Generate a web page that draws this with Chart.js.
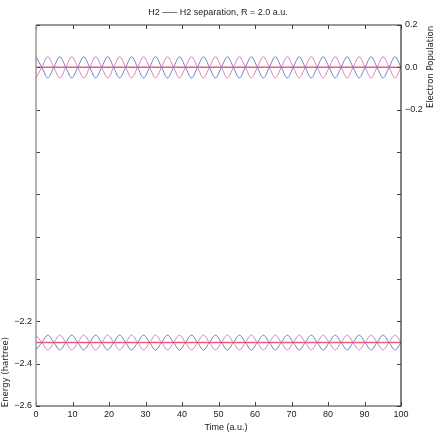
<!DOCTYPE html>
<html>
<head>
<meta charset="utf-8">
<script src="https://cdn.jsdelivr.net/npm/chart.js@4/dist/chart.umd.min.js"></script>
<style>
html,body{margin:0;padding:0;background:#fff;}
canvas{display:block;}
</style>
</head>
<body>
<canvas id="c" width="436" height="436"></canvas>
<script>
// Time samples (a.u.): start, then alternating crossings / extrema
const times = [0, 1.6, 3.24, 4.88, 6.52, 8.16, 9.8, 11.44, 13.08, 14.72, 16.36, 18.0, 19.64, 21.28,
  22.92, 24.56, 26.2, 27.84, 29.48, 31.12, 32.76, 34.4, 36.04, 37.68, 39.32, 40.96, 42.6, 44.24,
  45.88, 47.52, 49.16, 50.8, 52.44, 54.08, 55.72, 57.36, 59.0, 60.64, 62.28, 63.92, 65.56, 67.2,
  68.84, 70.48, 72.12, 73.76, 75.4, 77.04, 78.68, 80.32, 81.96, 83.6, 85.24, 86.88, 88.52, 90.16,
  91.8, 93.44, 95.08, 96.72, 98.36, 100];

// Electron population (right axis)
const popBlue = [0.05,0,-0.05,0, 0.05,0,-0.05,0, 0.05,0,-0.05,0, 0.05,0,-0.05,0,
  0.05,0,-0.05,0, 0.05,0,-0.05,0, 0.05,0,-0.05,0, 0.05,0,-0.05,0,
  0.05,0,-0.05,0, 0.05,0,-0.05,0, 0.05,0,-0.05,0, 0.05,0,-0.05,0,
  0.05,0,-0.05,0, 0.05,0,-0.05,0, 0.05,0,-0.05,0, 0.05,0];
const popPink = [-0.05,0,0.05,0, -0.05,0,0.05,0, -0.05,0,0.05,0, -0.05,0,0.05,0,
  -0.05,0,0.05,0, -0.05,0,0.05,0, -0.05,0,0.05,0, -0.05,0,0.05,0,
  -0.05,0,0.05,0, -0.05,0,0.05,0, -0.05,0,0.05,0, -0.05,0,0.05,0,
  -0.05,0,0.05,0, -0.05,0,0.05,0, -0.05,0,0.05,0, -0.05,0];
const popMeanT = [0, 100];
const popMean = [0.0, 0.0];

// Energy (left axis, hartree)
const energyPink = [-2.265,-2.3,-2.335,-2.3, -2.265,-2.3,-2.335,-2.3, -2.265,-2.3,-2.335,-2.3, -2.265,-2.3,-2.335,-2.3,
  -2.265,-2.3,-2.335,-2.3, -2.265,-2.3,-2.335,-2.3, -2.265,-2.3,-2.335,-2.3, -2.265,-2.3,-2.335,-2.3,
  -2.265,-2.3,-2.335,-2.3, -2.265,-2.3,-2.335,-2.3, -2.265,-2.3,-2.335,-2.3, -2.265,-2.3,-2.335,-2.3,
  -2.265,-2.3,-2.335,-2.3, -2.265,-2.3,-2.335,-2.3, -2.265,-2.3,-2.335,-2.3, -2.265,-2.3];
const energyBlue = [-2.335,-2.3,-2.265,-2.3, -2.335,-2.3,-2.265,-2.3, -2.335,-2.3,-2.265,-2.3, -2.335,-2.3,-2.265,-2.3,
  -2.335,-2.3,-2.265,-2.3, -2.335,-2.3,-2.265,-2.3, -2.335,-2.3,-2.265,-2.3, -2.335,-2.3,-2.265,-2.3,
  -2.335,-2.3,-2.265,-2.3, -2.335,-2.3,-2.265,-2.3, -2.335,-2.3,-2.265,-2.3, -2.335,-2.3,-2.265,-2.3,
  -2.335,-2.3,-2.265,-2.3, -2.335,-2.3,-2.265,-2.3, -2.335,-2.3,-2.265,-2.3, -2.335,-2.3];
const energyMeanT = [0, 100];
const energyMean = [-2.3, -2.3];

const leftLabeled = [-2.2, -2.4, -2.6];
const rightLabeled = [0.2, 0.0, -0.2];

const FONT = "'Liberation Sans', sans-serif";
const TFONT = "'DejaVu Sans', sans-serif";
const BLUE = '#6a7cc4';
const PINK = '#d77cc0';
const RED = '#ef5d6c';
const TEXT = '#222';

function pts(xs, ys){ return xs.map((x,i)=>({x:x, y:ys[i]})); }
function fmt(v){ const s = Math.abs(v).toFixed(1); return (v < -1e-9 ? '\u2212' : '') + s; }
function isIn(v, arr){ return arr.some(a => Math.abs(a - v) < 1e-6); }

const overlay = {
  id: 'overlay',
  afterDraw(chart){
    const ctx = chart.ctx, a = chart.chartArea;
    const xs = chart.scales.x, yl = chart.scales.y, yr = chart.scales.y2;
    ctx.save();
    ctx.lineWidth = 1;
    ctx.strokeStyle = '#444';
    ctx.beginPath();
    xs.ticks.forEach(t => {
      const p = Math.round(xs.getPixelForValue(t.value)) + 0.5;
      ctx.moveTo(p, a.bottom); ctx.lineTo(p, a.bottom - 4);
      ctx.moveTo(p, a.top); ctx.lineTo(p, a.top + 4);
    });
    yl.ticks.forEach(t => {
      const p = Math.round(yl.getPixelForValue(t.value)) + 0.5;
      ctx.moveTo(a.left, p); ctx.lineTo(a.left + 4, p);
    });
    yr.ticks.forEach(t => {
      const p = Math.round(yr.getPixelForValue(t.value)) + 0.5;
      ctx.moveTo(a.right, p); ctx.lineTo(a.right - 4, p);
    });
    ctx.stroke();
    ctx.lineWidth = 1.2;
    ctx.strokeStyle = '#333';
    ctx.beginPath();
    ctx.moveTo(a.left, a.top); ctx.lineTo(a.right, a.top);
    ctx.lineTo(a.right, a.bottom); ctx.lineTo(a.left, a.bottom);
    ctx.stroke();
    ctx.strokeStyle = '#999';
    ctx.lineWidth = 1.5;
    ctx.beginPath();
    ctx.moveTo(a.left, a.top); ctx.lineTo(a.left, a.bottom);
    ctx.stroke();
    ctx.fillStyle = TEXT;
    ctx.textAlign = 'center';
    ctx.textBaseline = 'middle';
    ctx.font = '9px ' + FONT;
    ctx.fillText('Time (a.u.)', 226, 428);
    ctx.font = '8.5px ' + TFONT;
    ctx.save();
    ctx.translate(6, 372);
    ctx.rotate(-Math.PI / 2);
    ctx.fillText('Energy (hartree)', 0, 0);
    ctx.restore();
    ctx.save();
    ctx.translate(431, 67);
    ctx.rotate(-Math.PI / 2);
    ctx.fillText('Electron Population', 0, 0);
    ctx.restore();
    ctx.restore();
  }
};

const tickFont = {family: FONT, size: 9};

new Chart(document.getElementById('c'), {
  type: 'line',
  data: {
    datasets: [
      {data: pts(times, popBlue), yAxisID: 'y2', borderColor: BLUE, borderWidth: 1, pointRadius: 0, cubicInterpolationMode: 'monotone', fill: false},
      {data: pts(times, popPink), yAxisID: 'y2', borderColor: PINK, borderWidth: 1, pointRadius: 0, cubicInterpolationMode: 'monotone', fill: false},
      {data: pts(times, energyBlue), yAxisID: 'y', borderColor: BLUE, borderWidth: 1, pointRadius: 0, cubicInterpolationMode: 'monotone', fill: false},
      {data: pts(times, energyPink), yAxisID: 'y', borderColor: PINK, borderWidth: 1, pointRadius: 0, cubicInterpolationMode: 'monotone', fill: false},
      {data: pts(popMeanT, popMean), yAxisID: 'y2', borderColor: RED, borderWidth: 1.5, pointRadius: 0, fill: false},
      {data: pts(energyMeanT, energyMean), yAxisID: 'y', borderColor: RED, borderWidth: 1.5, pointRadius: 0, fill: false}
    ]
  },
  options: {
    responsive: false,
    animation: false,
    devicePixelRatio: 1,
    layout: {padding: 0},
    plugins: {
      legend: {display: false},
      tooltip: {enabled: false},
      title: {display: true, text: 'H2 \u2013\u2013\u2013 H2 separation, R = 2.0 a.u.', color: TEXT,
        font: {family: FONT, size: 9, weight: 'normal'}, padding: {top: 7, bottom: 7.2}}
    },
    scales: {
      x: {type: 'linear', min: 0, max: 100,
        ticks: {stepSize: 10, padding: 3, color: TEXT, font: tickFont, maxRotation: 0},
        grid: {display: false, drawTicks: false}, border: {display: false},
        afterFit: s => { s.height = 30; }},
      y: {type: 'linear', position: 'left', min: -2.6, max: -0.8,
        ticks: {stepSize: 0.2, padding: 4, color: TEXT, font: tickFont,
          callback: v => isIn(v, leftLabeled) ? fmt(v) : ''},
        grid: {display: false, drawTicks: false}, border: {display: false},
        afterFit: s => { s.width = 36; }},
      y2: {type: 'linear', position: 'right', min: -1.6, max: 0.2,
        ticks: {stepSize: 0.2, padding: 4, color: TEXT, font: tickFont,
          callback: v => isIn(v, rightLabeled) ? fmt(v) : ''},
        grid: {display: false, drawTicks: false}, border: {display: false},
        afterFit: s => { s.width = 35; }}
    }
  },
  plugins: [overlay]
});
</script>
</body>
</html>
